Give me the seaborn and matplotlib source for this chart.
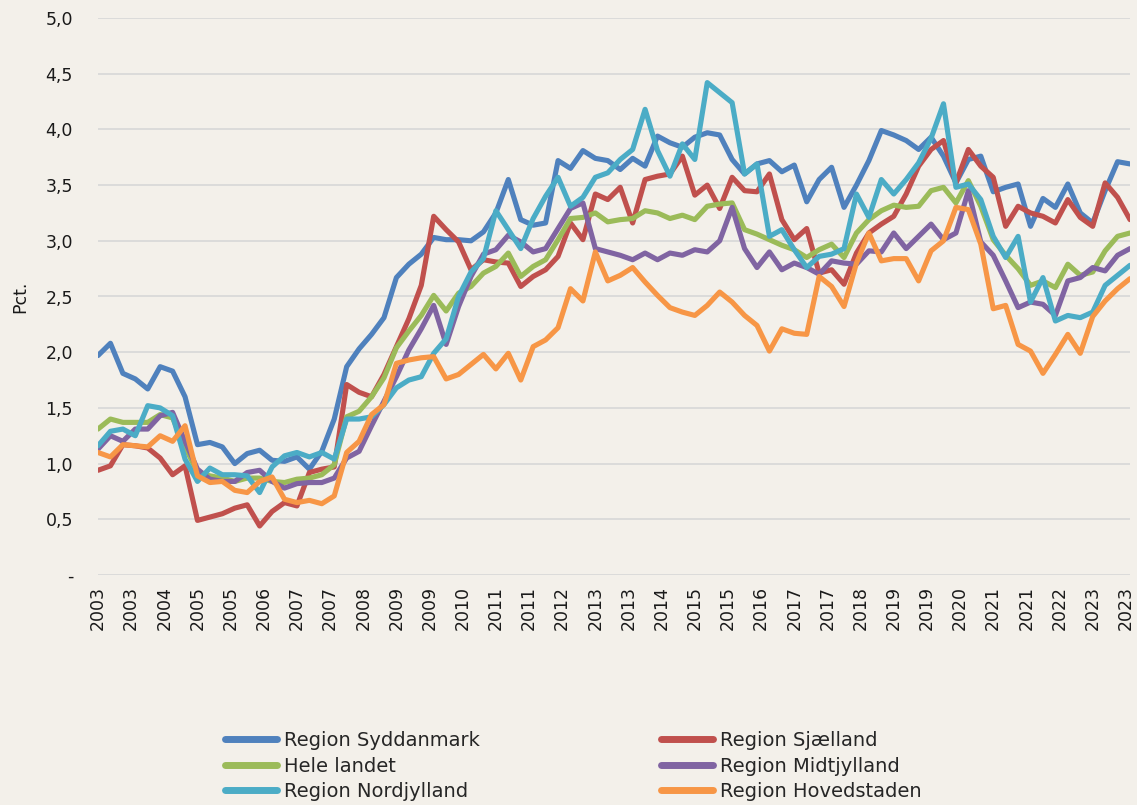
import numpy as np
import pandas as pd
import matplotlib
matplotlib.use("Agg")
import matplotlib.pyplot as plt
import seaborn as sns
from matplotlib.lines import Line2D

# Quarterly observations 2003Q1 - 2023Q4
start_year = 2003
n_quarters = 84

syddanmark = [1.97, 2.08, 1.81, 1.76, 1.67, 1.87, 1.83, 1.60, 1.17, 1.19, 1.15, 1.00, 1.09, 1.12, 1.03, 1.02, 1.06, 0.95, 1.11, 1.40, 1.87, 2.03, 2.16,
              2.31, 2.67, 2.79, 2.88, 3.03, 3.01,
              3.01, 3.00, 3.08, 3.25, 3.55, 3.19, 3.14, 3.16, 3.72, 3.65, 3.81, 3.74, 3.72, 3.64, 3.74, 3.67, 3.94, 3.88, 3.84, 3.93, 3.97, 3.95, 3.73, 3.60, 3.69, 3.72, 3.62, 3.68,
              3.35, 3.55, 3.66, 3.30, 3.50, 3.72, 3.99, 3.95, 3.90, 3.82, 3.93, 3.76, 3.52, 3.73, 3.76, 3.44, 3.48, 3.51, 3.13, 3.38, 3.30, 3.51, 3.25, 3.16, 3.45, 3.71, 3.69]

sjaelland = [0.94, 0.98, 1.17, 1.16, 1.14, 1.05, 0.90, 0.98, 0.49, 0.52, 0.55, 0.60, 0.63, 0.44, 0.57, 0.65, 0.62, 0.92, 0.95, 0.97, 1.71, 1.64, 1.60,
             1.80, 2.05, 2.30, 2.60, 3.22, 3.10,
             2.99, 2.74, 2.83, 2.81, 2.80, 2.59, 2.68, 2.74, 2.86, 3.16, 3.01, 3.42, 3.37, 3.48, 3.16, 3.55, 3.58, 3.60, 3.76, 3.41, 3.50, 3.29, 3.57, 3.45, 3.44, 3.60, 3.19, 3.01,
             3.11, 2.71, 2.74, 2.61, 2.89, 3.07, 3.15, 3.22, 3.42, 3.67, 3.82, 3.90, 3.52, 3.82, 3.67, 3.57, 3.13, 3.31, 3.25, 3.22, 3.16, 3.37, 3.21, 3.13, 3.52, 3.39, 3.19]

hele_landet = [1.31, 1.40, 1.37, 1.37, 1.37, 1.44, 1.41, 1.15, 0.92, 0.89, 0.87, 0.84, 0.87, 0.87, 0.84, 0.83, 0.86, 0.87, 0.90, 0.99, 1.42, 1.47, 1.60,
               1.77, 2.04, 2.19, 2.33, 2.51, 2.37,
               2.53, 2.59, 2.71, 2.77, 2.89, 2.68, 2.77, 2.83, 3.01, 3.20, 3.21, 3.25, 3.17, 3.19, 3.20, 3.27, 3.25, 3.20, 3.23, 3.19, 3.31, 3.33, 3.34, 3.10, 3.06, 3.01, 2.96, 2.92,
               2.85, 2.92, 2.97, 2.85, 3.07, 3.19, 3.27, 3.32, 3.30, 3.31, 3.45, 3.48, 3.34, 3.54, 3.31, 3.01, 2.87, 2.75, 2.60, 2.64, 2.58, 2.79, 2.69, 2.72, 2.91, 3.04, 3.07]

midtjylland = [1.13, 1.25, 1.20, 1.31, 1.31, 1.43, 1.46, 1.20, 0.95, 0.86, 0.84, 0.84, 0.92, 0.94, 0.84, 0.78, 0.82, 0.83, 0.83, 0.87, 1.05, 1.11, 1.34,
               1.56, 1.78, 2.02, 2.21, 2.42, 2.07,
               2.41, 2.68, 2.88, 2.92, 3.05, 2.99, 2.90, 2.93, 3.11, 3.29, 3.34, 2.93, 2.90, 2.87, 2.83, 2.89, 2.83, 2.89, 2.87, 2.92, 2.90, 3.00, 3.30, 2.93, 2.76, 2.90, 2.74, 2.80,
               2.76, 2.70, 2.82, 2.80, 2.79, 2.91, 2.90, 3.07, 2.93, 3.04, 3.15, 3.01, 3.07, 3.45, 2.99, 2.87, 2.64, 2.40, 2.45, 2.43, 2.33, 2.64, 2.67, 2.76, 2.73, 2.87, 2.93]

nordjylland = [1.16, 1.29, 1.31, 1.25, 1.52, 1.50, 1.43, 1.04, 0.84, 0.96, 0.90, 0.90, 0.89, 0.74, 0.97, 1.07, 1.10, 1.06, 1.10, 1.04, 1.40, 1.40, 1.42,
               1.53, 1.68, 1.75, 1.78, 1.99, 2.12,
               2.50, 2.72, 2.84, 3.27, 3.10, 2.93, 3.20, 3.40, 3.57, 3.31, 3.39, 3.57, 3.61, 3.73, 3.82, 4.18, 3.81, 3.58, 3.87, 3.73, 4.42, 4.33, 4.24, 3.60, 3.69, 3.04, 3.10, 2.92,
               2.76, 2.86, 2.88, 2.93, 3.42, 3.21, 3.55, 3.42, 3.55, 3.70, 3.92, 4.23, 3.48, 3.51, 3.37, 3.04, 2.85, 3.04, 2.45, 2.67, 2.28, 2.33, 2.31, 2.36, 2.60, 2.69, 2.78]

hovedstaden = [1.10, 1.06, 1.17, 1.16, 1.15, 1.25, 1.20, 1.34, 0.89, 0.83, 0.84, 0.76, 0.74, 0.84, 0.88, 0.68, 0.65, 0.67, 0.64, 0.71, 1.10, 1.20, 1.44,
               1.53, 1.90, 1.93, 1.95, 1.96, 1.76,
               1.80, 1.89, 1.98, 1.85, 1.99, 1.75, 2.05, 2.11, 2.22, 2.57, 2.46, 2.90, 2.64, 2.69, 2.76, 2.63, 2.51, 2.40, 2.36, 2.33, 2.42, 2.54, 2.45, 2.33, 2.24, 2.01, 2.21, 2.17,
               2.16, 2.68, 2.59, 2.41, 2.80, 3.07, 2.82, 2.84, 2.84, 2.64, 2.91, 3.00, 3.30, 3.28, 2.97, 2.39, 2.42, 2.07, 2.01, 1.81, 1.98, 2.16, 1.99, 2.32, 2.46, 2.57, 2.66]

series_names = ["Region Syddanmark", "Region Sjælland", "Hele landet",
                "Region Midtjylland", "Region Nordjylland", "Region Hovedstaden"]
series_values = [syddanmark, sjaelland, hele_landet, midtjylland, nordjylland, hovedstaden]
series_colors = ["#4F81BD", "#C0504D", "#9BBB59", "#8064A2", "#4BACC6", "#F79646"]

y_ticks = [0.0, 0.5, 1.0, 1.5, 2.0, 2.5, 3.0, 3.5, 4.0, 4.5, 5.0]
y_tick_labels = ["-", "0,5", "1,0", "1,5", "2,0", "2,5", "3,0", "3,5", "4,0", "4,5", "5,0"]

# month offset from Jan 2003 for each quarter
months = [3 * i for i in range(n_quarters)]
rows = []
for name, vals in zip(series_names, series_values):
    for m, v in zip(months, vals):
        rows.append({"month": m, "value": v, "series": name})
df = pd.DataFrame(rows)

bg = "#F3F0EA"
sns.set_theme(style="white")
plt.rcParams["font.family"] = ["DejaVu Sans"]

fig = plt.figure(figsize=(11.37, 8.05), dpi=100, facecolor=bg)
ax = fig.add_axes([98 / 1137, 1 - 575 / 805, (1130 - 98) / 1137, (575 - 18) / 805])
ax.set_facecolor(bg)

palette = dict(zip(series_names, series_colors))
sns.lineplot(data=df, x="month", y="value", hue="series", hue_order=series_names,
             palette=palette, linewidth=3.7, ax=ax, legend=False, sort=False)
for ln in ax.get_lines():
    ln.set_solid_joinstyle("round")
    ln.set_solid_capstyle("round")

ax.set_xlim(0, 249)
ax.set_ylim(0, 5)
ax.set_yticks(y_ticks)
ax.set_yticklabels(y_tick_labels, fontsize=12.5, color="#1a1a1a")
ax.yaxis.grid(True, color="#D9D9D9", linewidth=1.3)
ax.set_axisbelow(True)
for sp in ax.spines.values():
    sp.set_visible(False)

tick_pos = list(range(0, 249, 8))
tick_lab = [str(start_year + p // 12) for p in tick_pos]
ax.set_xticks(tick_pos)
ax.set_xticklabels(tick_lab, rotation=90, fontsize=12.5, color="#1a1a1a")
ax.tick_params(axis="x", length=0, pad=8)
ax.tick_params(axis="y", length=0, pad=18)
ax.set_xlabel("")
ax.set_ylabel("Pct.", fontsize=12.5, color="#1a1a1a", labelpad=12)

order = [0, 2, 4, 1, 3, 5]
handles = [Line2D([0], [0], color=series_colors[k], linewidth=5, solid_capstyle="round") for k in order]
labels = [series_names[k] for k in order]
fig.legend(handles, labels, loc="center", bbox_to_anchor=(0.504, 1 - 766 / 805), ncol=2,
           frameon=False, fontsize=14, handlelength=2.7, handletextpad=0.35,
           columnspacing=9.3, labelspacing=0.33)

fig.savefig("out.png", dpi=100, facecolor=bg)
